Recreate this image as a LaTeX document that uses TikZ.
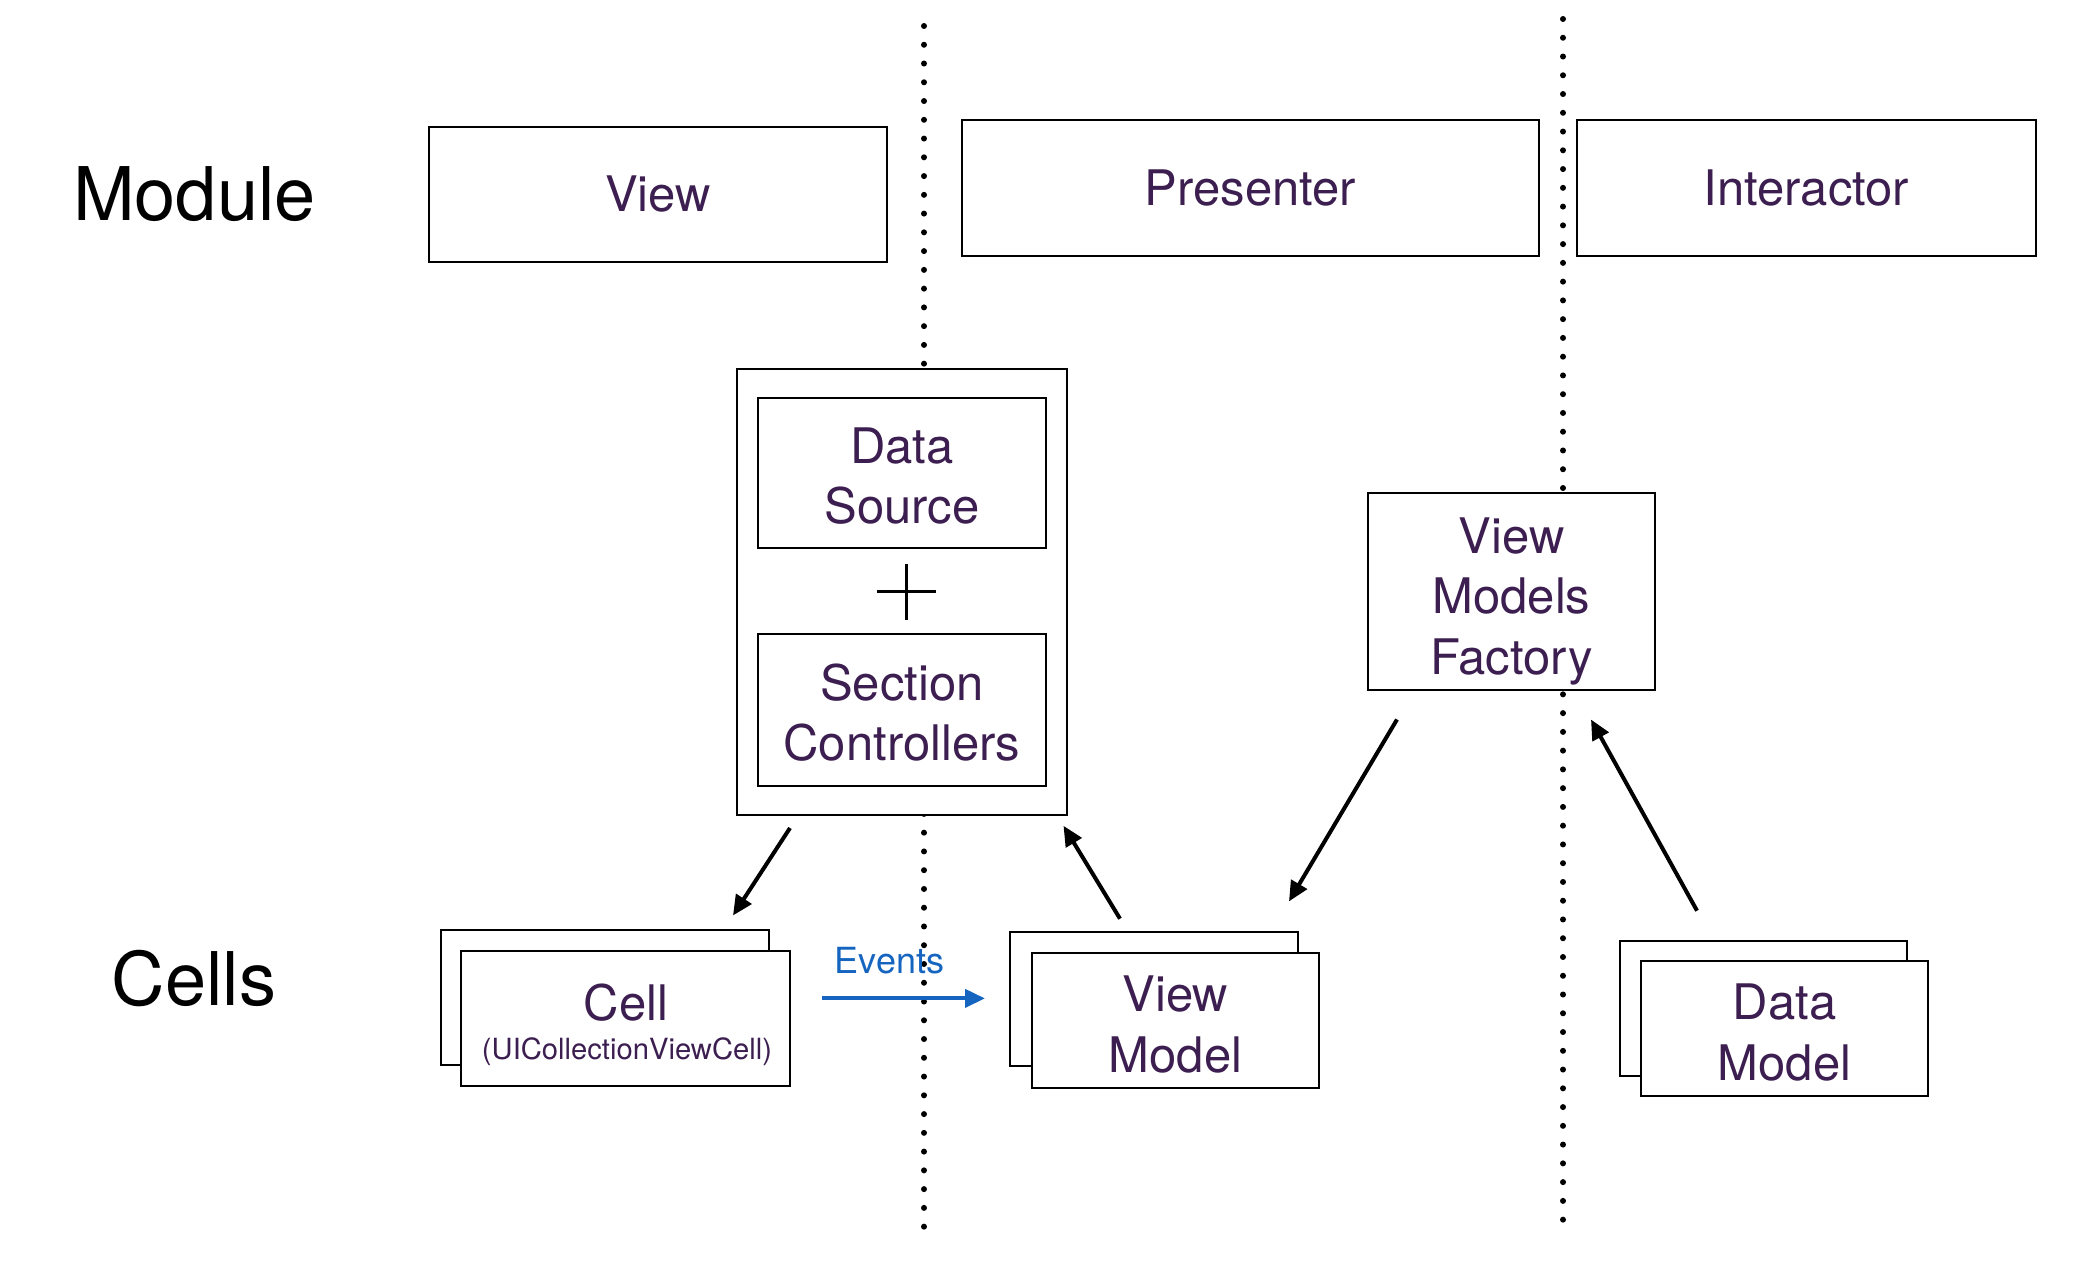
\documentclass[tikz,border=0pt]{standalone}
\usepackage{fontspec}
\setmainfont{TeX Gyre Heros}
\usepackage{tikz}
\usetikzlibrary{arrows.meta,positioning}
\definecolor{txtpurple}{RGB}{60,30,80}
\definecolor{evblue}{RGB}{21,101,192}

\begin{document}
\begin{tikzpicture}[x=0.5pt,y=-0.5pt,
	box/.style={draw, line width=1pt, fill=white, inner sep=0pt, text=txtpurple, align=center, font=\fontsize{24.5}{30.2}\selectfont},
	txt/.style={inner sep=0pt, text=txtpurple, align=center, font=\fontsize{24.5}{30.2}\selectfont},
	stack/.style={draw, line width=1pt, fill=white, inner sep=0pt},
	layer/.style={font=\fontsize{37}{44}\selectfont, anchor=base},
	sep/.style={line width=3pt, line cap=round, dash pattern=on 0pt off 9.38pt},
	arr/.style={line width=2pt, -{Triangle[length=10pt,width=9pt]}}]
	\useasboundingbox (0,0) rectangle (2074,1262);
	% borders between view, presenter and interactor
	\draw [sep] (924,26) -- (924,1227);
	\draw [sep] (1563,19) -- (1563,1221);
	\node [layer] (module) at (194.5,221) {Module};
	\node [layer] (cells) at (194,1005) {Cells};
	\node [box, minimum width=229pt, minimum height=67.5pt] (view) at (658,194.5) {View};
	\node [box, minimum width=288.5pt, minimum height=68pt] (presenter) at (1250.5,188) {Presenter};
	\node [box, minimum width=229.5pt, minimum height=68pt] (interactor) at (1806.5,188) {Interactor};
	% adapter
	\node [stack, minimum width=165pt, minimum height=222.8pt] (adapter) at (902,592) {};
	\node [stack, minimum width=144pt, minimum height=75.25pt] (source) at (902,473) {};
	\node [txt] (sourcetext) at ([yshift=-1.4pt]source) {Data\\Source};
	\node [stack, minimum width=144pt, minimum height=75.5pt] (sections) at (902,710) {};
	\node [txt] (sectionstext) at ([yshift=-1.2pt]sections) {Section\\Controllers};
	\coordinate (plus) at (906,592);
	\draw [line width=1.5pt] ([xshift=-14.75pt]plus) -- ([xshift=14.75pt]plus);
	\draw [line width=1.5pt] ([yshift=-13.85pt]plus) -- ([yshift=13.85pt]plus);
	\node [stack, minimum width=143.5pt, minimum height=98.2pt] (factory) at (1511.5,591.6) {};
	\node [txt] (factorytext) at ([yshift=-4.75pt]factory) {View\\Models\\Factory};
	% cells row
	\node [stack, minimum width=164pt, minimum height=67.5pt] (cellback) at (604.5,997.5) {};
	\node [stack, minimum width=164.5pt, minimum height=67.35pt] (cell) at (625.5,1018.4) {};
	\node [anchor=base, text=txtpurple, font=\fontsize{24.5}{30}\selectfont] (celltitle) at (626,1020.5) {Cell};
	\node [anchor=base, text=txtpurple, font=\fontsize{14.6}{17}\selectfont] (cellclass) at (627,1059.6) {(UICollectionViewCell)};
	\node [stack, minimum width=144pt, minimum height=67.4pt] (vmback) at (1154,999) {};
	\node [stack, minimum width=143.5pt, minimum height=67.35pt] (viewmodel) at (1175.5,1020.4) {};
	\node [txt] (viewmodeltext) at ([yshift=-2pt]viewmodel) {View\\Model};
	\node [stack, minimum width=143.5pt, minimum height=67.4pt] (dmback) at (1763.5,1008.3) {};
	\node [stack, minimum width=143.5pt, minimum height=67.4pt] (datamodel) at (1784.5,1028.4) {};
	\node [txt] (datamodeltext) at ([yshift=-2pt]datamodel) {Data\\Model};
	% events
	\node [anchor=base, text=evblue, font=\fontsize{18}{22}\selectfont] (events) at (889.5,973) {Events};
	\coordinate (evtail) at (822,998.4);
	\coordinate (evhead) at (985,998.4);
	\draw [arr, evblue] (evtail) -- (evhead);
	% data flow
	\coordinate (a1s) at (790,828);
	\coordinate (a1e) at (733,915.5);
	\coordinate (a2s) at (1120,918.7);
	\coordinate (a2e) at (1063.5,825.8);
	\coordinate (a3s) at (1397,719.5);
	\coordinate (a3e) at (1289,901.4);
	\coordinate (a4s) at (1697,910.7);
	\coordinate (a4e) at (1591,719.5);
	\draw [arr] (a1s) -- (a1e);
	\draw [arr] (a2s) -- (a2e);
	\draw [arr] (a3s) -- (a3e);
	\draw [arr] (a4s) -- (a4e);
\end{tikzpicture}
\end{document}
